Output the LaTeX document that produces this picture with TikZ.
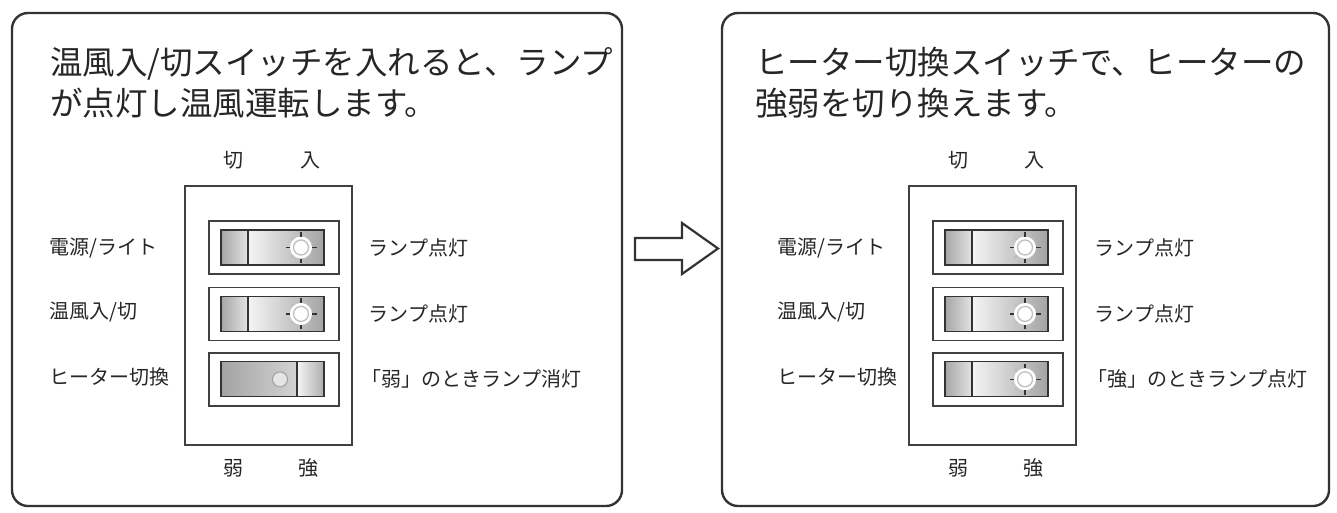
\documentclass[tikz,border=0pt]{standalone}
\usepackage{fontspec}
\setmainfont{Noto Sans CJK JP}
\usetikzlibrary{positioning,calc}

\begin{document}
\begin{tikzpicture}[x=1pt,y=-1pt,
  panel/.style={draw=black!80,line width=2.4pt,rounded corners=16pt},
  ttl/.style={font=\fontsize{32.5}{41}\selectfont,align=left,anchor=north west,inner sep=0pt,text=black!85},
  lbl/.style={font=\fontsize{20}{24}\selectfont,inner sep=0pt,text=black!85},
  plate/.style={draw=black!75,line width=1.4pt,minimum width=167pt,minimum height=259pt},
  frm/.style={draw=black!75,line width=1.4pt,minimum width=130pt,minimum height=53pt},
  edge/.style={draw=black!80,line width=1.3pt},
  lampon/.pic={
    \fill[white] (0,0) circle (11);
    \draw[gray!50,line width=1.3pt,fill=white] (0,0) circle (7.5);
    \foreach \a in {0,90,180,270} \draw[black!80,line width=1.2pt] (\a:11) -- (\a:15.5);
    \foreach \a in {45,135,225,315} \draw[gray!55,line width=1.1pt] (\a:11) -- (\a:14);
  },
  rockon/.pic={
    \shade[left color=gray!70,right color=gray!22] (-53,-17.5) rectangle (-26,17.5);
    \shade[left color=gray!8,right color=gray!72] (-26,-17.5) rectangle (50,17.5);
    \draw[edge] (-53,-17.5) rectangle (50,17.5) (-26,-17.5) -- (-26,17.5);
    \pic at (27,0) {lampon};
  },
  rockoff/.pic={
    \shade[left color=gray!72,right color=gray!35] (-53,-17.5) rectangle (23,17.5);
    \shade[left color=gray!8,right color=gray!65] (23,-17.5) rectangle (50,17.5);
    \draw[edge] (-53,-17.5) rectangle (50,17.5) (23,-17.5) -- (23,17.5);
    \draw[gray!70,line width=1.2pt,fill=gray!20] (6,0) circle (7.5);
  },
]
\useasboundingbox (0,0) rectangle (1337,512);

% ===== left panel: hot air on =====
\draw[panel] (12,13) rectangle (622,506);
\node[ttl] (t1) at (50,47) {温風入/切スイッチを入れると、ランプ\\が点灯し温風運転します。};
\node[plate] (pl) at (268.5,315.5) {};
\node[frm] (s1) at (274,247.5) {};
\node[frm,below=12pt of s1] (s2) {};
\node[frm,below=11pt of s2] (s3) {};
\pic at (s1.center) {rockon};
\pic at (s2.center) {rockon};
\pic at (s3.center) {rockoff};
\node[lbl] (k1) at (233,160) {切};
\node[lbl] (n1) at (310,160) {入};
\node[lbl] (w1) at (233,468) {弱};
\node[lbl] (g1) at (308,468) {強};
\node[lbl,anchor=west] (a1) at (49,247.5) {電源/ライト};
\node[lbl,anchor=west] (a2) at (49,312.5) {温風入/切};
\node[lbl,anchor=west] (a3) at (49,376.5) {ヒーター切換};
\node[lbl,anchor=west,right=29pt of s1] (b1) {ランプ点灯};
\node[lbl,anchor=west,right=29pt of s2] (b2) {ランプ点灯};
\node[lbl,anchor=west,right=22pt of s3] (b3) {「弱」のときランプ消灯};

% block arrow between the panels
\draw[black!80,line width=2.2pt,line join=miter]
  (635,238) -- (682,238) -- (682,223) -- (718,248.5) -- (682,274) -- (682,260) -- (635,260) -- cycle;

% ===== right panel: heater strong =====
\draw[panel] (722,13) rectangle (1329,506);
\node[ttl] (t2) at (755,47) {ヒーター切換スイッチで、ヒーターの\\強弱を切り換えます。};
\begin{scope}[xshift=724pt]
\node[plate] (pr) at (268.5,315.5) {};
\node[frm] (r1) at (274,247.5) {};
\node[frm,below=12pt of r1] (r2) {};
\node[frm,below=11pt of r2] (r3) {};
\pic at (r1.center) {rockon};
\pic at (r2.center) {rockon};
\pic at (r3.center) {rockon};
\node[lbl] (k2) at (234,160) {切};
\node[lbl] (n2) at (310,160) {入};
\node[lbl] (w2) at (234,468) {弱};
\node[lbl] (g2) at (309,468) {強};
\node[lbl,anchor=west] (c1) at (53,247.5) {電源/ライト};
\node[lbl,anchor=west] (c2) at (53,312.5) {温風入/切};
\node[lbl,anchor=west] (c3) at (53,376.5) {ヒーター切換};
\node[lbl,anchor=west,right=31pt of r1] (d1) {ランプ点灯};
\node[lbl,anchor=west,right=31pt of r2] (d2) {ランプ点灯};
\node[lbl,anchor=west,right=24pt of r3] (d3) {「強」のときランプ点灯};
\end{scope}
\end{tikzpicture}
\end{document}
